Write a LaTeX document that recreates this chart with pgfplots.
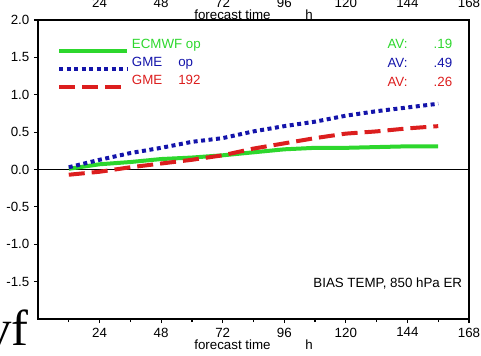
\documentclass[border=0pt]{standalone}
\usepackage{fontspec}
\setmainfont{Liberation Sans}
\newfontfamily\vffont{Liberation Serif}
\usepackage{pgfplots}
\pgfplotsset{compat=1.18}
\newlength\px \setlength\px{0.75pt}
\definecolor{ecg}{RGB}{45,215,45}
\definecolor{gmb}{RGB}{20,20,170}
\definecolor{gmr}{RGB}{220,30,30}
\begin{document}
\begin{tikzpicture}
\begin{axis}[
  scale only axis, width=431\px, height=299\px,
  at={(0,0)}, anchor=south west,
  clip=false,
  xmin=0, xmax=168, ymin=-2, ymax=2,
  xtick={24,48,...,168}, minor xtick={12,36,...,156},
  ytick={-1.5,-1,...,2},
  xtick pos=bottom, ytick pos=left,
  tick align=outside, major tick length=4\px, minor tick length=3\px,
  axis line style={line width=1.3\px},
  every tick/.style={black, line width=1.2\px},
  tick label style={font=\fontsize{10}{12}\selectfont},
  /pgf/number format/assume math mode=true,
  yticklabel style={/pgf/number format/.cd, fixed, fixed zerofill, precision=1},
  xticklabel style={/pgf/number format/.cd, fixed},
  xlabel={forecast time\hspace{2.6em}h},
  xlabel style={font=\fontsize{10}{12}\selectfont, yshift=6\px},
  legend style={draw=none, fill=none, at={(axis description cs:0.044,0.945)}, anchor=north west,
    inner sep=0pt, font=\fontsize{10}{12}\selectfont, row sep=1.5\px,
    /tikz/every even column/.append style={column sep=0\px}},
  legend image code/.code={\draw[#1] (0\px,-6\px) -- (68\px,-6\px);},
  legend cell align=left,
]
\addplot[black, line width=1.2\px, forget plot] coordinates {(0,0) (168,0)};
\addplot[ecg, line width=4\px] coordinates {
(12,0.01) (24,0.07) (36,0.10) (48,0.14) (60,0.16) (72,0.19) (84,0.23)
(96,0.27) (108,0.29) (120,0.29) (132,0.30) (144,0.31) (156,0.31)};
\addlegendentry{\textcolor{ecg}{ECMWF op}}
\addplot[gmb, line width=4\px, dash pattern=on 4\px off 3.5\px] coordinates {
(12,0.03) (24,0.13) (36,0.22) (48,0.29) (60,0.37) (72,0.42) (84,0.51)
(96,0.58) (108,0.64) (120,0.72) (132,0.78) (144,0.83) (156,0.88)};
\addlegendentry{\textcolor{gmb}{GME\hspace{1.2em}op}}
\addplot[gmr, line width=4\px, dash pattern=on 16\px off 7\px] coordinates {
(12,-0.07) (24,-0.03) (36,0.03) (48,0.08) (60,0.13) (72,0.19) (84,0.28)
(96,0.35) (108,0.42) (120,0.48) (132,0.51) (144,0.55) (156,0.58)};
\addlegendentry{\textcolor{gmr}{GME\hspace{1.2em}192}}
\begin{scope}[font=\fontsize{10}{12}\selectfont]
\node[anchor=west, text=ecg] at (axis description cs:0.80,0.920) {AV:};
\node[anchor=west, text=gmb] at (axis description cs:0.80,0.856) {AV:};
\node[anchor=west, text=gmr] at (axis description cs:0.80,0.793) {AV:};
\node[anchor=east, text=ecg] at (axis description cs:0.972,0.920) {.19};
\node[anchor=east, text=gmb] at (axis description cs:0.972,0.856) {.49};
\node[anchor=east, text=gmr] at (axis description cs:0.972,0.793) {.26};
\node[anchor=east] at (axis description cs:0.995,0.120) {BIAS TEMP, 850 hPa ER};
\node[yshift=17\px] at (axis cs:24,2) {24};
\node[yshift=17\px] at (axis cs:48,2) {48};
\node[yshift=17\px] at (axis cs:72,2) {72};
\node[yshift=17\px] at (axis cs:96,2) {96};
\node[yshift=17\px] at (axis cs:120,2) {120};
\node[yshift=17\px] at (axis cs:144,2) {144};
\node[yshift=17\px] at (axis cs:168,2) {168};
\node[yshift=5\px] at (axis cs:84,2) {forecast time\hspace{2.6em}h};
\end{scope}
\node[anchor=base east, font=\vffont\fontsize{38}{40}\selectfont, xshift=-5\px, yshift=-26\px] at (axis description cs:0,0) {vf};
\end{axis}
\pgfresetboundingbox
\useasboundingbox (-38\px,-36\px) rectangle (443\px,319\px);
\end{tikzpicture}
\end{document}
